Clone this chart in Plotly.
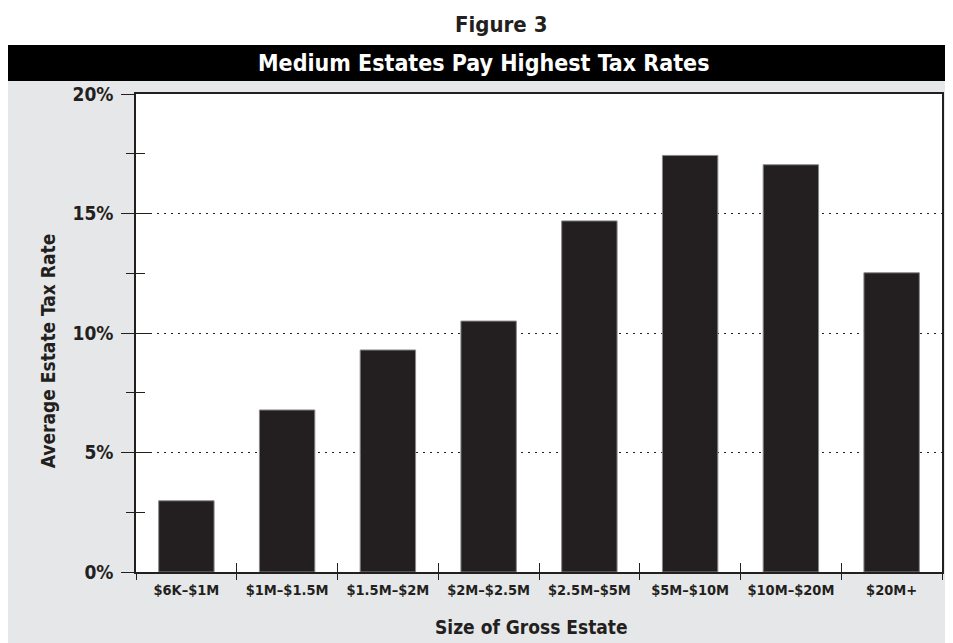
import plotly.graph_objects as go

categories = ["$6K–$1M", "$1M–$1.5M", "$1.5M–$2M", "$2M–$2.5M",
              "$2.5M–$5M", "$5M–$10M", "$10M–$20M", "$20M+"]
tax_rate = [2.98, 6.78, 9.29, 10.5, 14.69, 17.43, 17.04, 12.52]
y_tickvals = [0, 5, 10, 15, 20]
y_ticktext = ["0%", "5%", "10%", "15%", "20%"]
y_minor = [2.5, 7.5, 12.5, 17.5]

FONT = "DejaVu Sans Condensed"
INK = "#231f20"
W, H = 945, 635
L, R, T, B = 128, 9, 86, 71
PW, PH = W - L - R, H - T - B


def px(xp):
    return (xp - L) / PW


def py(yp):
    return (H - B - yp) / PH


fig = go.Figure()
fig.add_trace(go.Bar(
    x=categories, y=tax_rate,
    marker=dict(color=INK, line=dict(color="#8a8a8a", width=1)),
    width=0.55, hoverinfo="x+y", showlegend=False,
))
# invisible trace to anchor the overlay axes (inside tick halves)
fig.add_trace(go.Scatter(
    x=categories, y=tax_rate, xaxis="x2", yaxis="y2", mode="markers",
    marker=dict(opacity=0), hoverinfo="skip", showlegend=False,
))

fig.update_layout(
    width=W, height=H,
    margin=dict(l=L, r=R, t=T, b=B),
    paper_bgcolor="#e6e7e8",
    plot_bgcolor="white",
    font=dict(family=FONT, color=INK),
    xaxis=dict(
        type="category", categoryarray=categories, range=[-0.5, 7.5],
        tickson="boundaries", ticks="outside", ticklen=6, tickcolor=INK,
        tickwidth=1, showline=True, linecolor=INK, linewidth=1.5,
        mirror=True, showgrid=False, ticklabelstandoff=4,
        tickfont=dict(family=FONT, size=14.5, weight="bold", color=INK),
    ),
    yaxis=dict(
        range=[0, 20], tickvals=y_tickvals, ticktext=y_ticktext,
        ticks="outside", ticklen=13, tickwidth=1.2, tickcolor=INK,
        minor=dict(tickvals=y_minor, ticks="outside", ticklen=8,
                   tickcolor=INK, tickwidth=1.2, showgrid=False),
        showline=True, linecolor=INK, linewidth=1.5, mirror=True,
        showgrid=True, gridcolor=INK, gridwidth=1, griddash="2px,5px",
        zeroline=False, ticklabelstandoff=4,
        tickfont=dict(family=FONT, size=19, weight="bold", color=INK),
    ),
    xaxis2=dict(
        type="category", categoryarray=categories, range=[-0.5, 7.5],
        overlaying="x", anchor="y2", side="bottom",
        tickson="boundaries", ticks="inside", ticklen=9, tickcolor=INK,
        showticklabels=False, showline=False, showgrid=False,
    ),
    yaxis2=dict(
        range=[0, 20], tickvals=y_tickvals, overlaying="y", anchor="x2",
        side="left", ticks="inside", ticklen=14, tickwidth=1.2, tickcolor=INK,
        minor=dict(tickvals=y_minor, ticks="inside", ticklen=9,
                   tickcolor=INK, tickwidth=1.2, showgrid=False),
        showticklabels=False, showline=False, showgrid=False, zeroline=False,
    ),
    shapes=[
        # white top area
        dict(type="rect", xref="paper", yref="paper", x0=px(-5), x1=px(W + 5),
             y0=py(37), y1=py(-5), fillcolor="white", line=dict(width=0), layer="above"),
        # black title band
        dict(type="rect", xref="paper", yref="paper", x0=px(-1), x1=px(W + 5),
             y0=py(73), y1=py(37), fillcolor="black", line=dict(width=0), layer="above"),
    ],
    annotations=[
        dict(text="Figure 3", xref="paper", yref="paper", x=px(494), y=py(17),
             showarrow=False, xanchor="center", yanchor="middle",
             font=dict(family=FONT, size=22, weight="bold", color=INK)),
        dict(text="Medium Estates Pay Highest Tax Rates", xref="paper", yref="paper",
             x=px(476), y=py(55), showarrow=False, xanchor="center", yanchor="middle",
             font=dict(family=FONT, size=23, weight="bold", color="white")),
        dict(text="Average Estate Tax Rate", xref="paper", yref="paper",
             x=px(40), y=py(343), textangle=-90, showarrow=False,
             xanchor="center", yanchor="middle",
             font=dict(family=FONT, size=19, weight="bold", color=INK)),
        dict(text="Size of Gross Estate", xref="paper", yref="paper",
             x=px(524), y=py(619), showarrow=False, xanchor="center", yanchor="middle",
             font=dict(family=FONT, size=19, weight="bold", color=INK)),
    ],
)

fig.write_html("out.html")
